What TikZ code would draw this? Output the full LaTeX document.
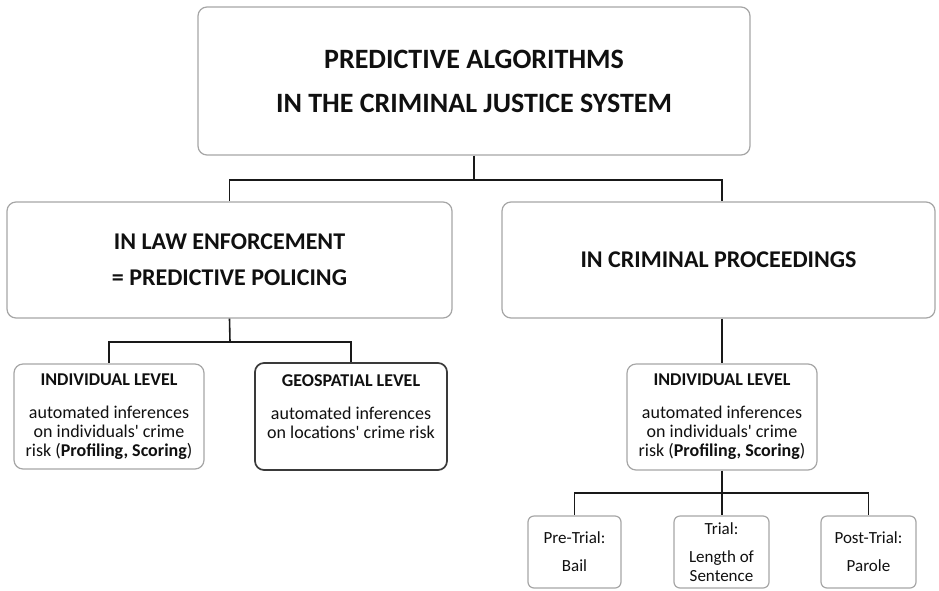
\documentclass[tikz,border=0pt]{standalone}
\usepackage{fontspec}
\setmainfont{Carlito}[Ligatures=TeXOff]
\definecolor{boxgrey}{HTML}{A6A6A6}
\definecolor{boxdark}{HTML}{3A3A3A}
\definecolor{txt}{HTML}{101010}
\begin{document}
\begin{tikzpicture}[x=1pt,y=-1pt,
  box/.style={draw=boxgrey,line width=1.2pt,rounded corners=9pt,fill=white,
    align=center,inner sep=0pt,text=txt},
  smallbox/.style={box,rounded corners=6pt},
  darkbox/.style={box,draw=boxdark,line width=1.7pt},
  conn/.style={draw=black!90,line width=1.6pt},
  big/.style={font=\fontsize{28}{44}\selectfont\bfseries},
  mid/.style={font=\fontsize{24}{36}\selectfont\bfseries},
  lvl/.style={font=\fontsize{18}{19}\selectfont},
  small/.style={font=\fontsize{17}{19}\selectfont}]
\useasboundingbox[fill=white] (0,0) rectangle (939,590);

\node[box,big,minimum width=552pt,minimum height=148pt] (top) at (474,81)
  {PREDICTIVE ALGORITHMS\\IN THE CRIMINAL JUSTICE SYSTEM};

\node[box,mid,minimum width=445pt,minimum height=116pt] (law) at (229.5,260)
  {IN LAW ENFORCEMENT\\= PREDICTIVE POLICING};
\node[box,mid,minimum width=433pt,minimum height=116pt] (proc) at (718.5,260)
  {IN CRIMINAL PROCEEDINGS};

\node[box,lvl,minimum width=190pt,minimum height=105pt] (ind1) at (109,416.5)
  {\textbf{INDIVIDUAL LEVEL}\\[14pt]automated inferences\\on individuals' crime\\risk (\textbf{Profiling, Scoring})};
\node[darkbox,lvl,minimum width=192pt,minimum height=107pt] (geo) at (351,416.5)
  {\textbf{GEOSPATIAL LEVEL}\\[14pt]automated inferences\\on locations' crime risk\\\mbox{}};
\node[box,lvl,minimum width=190pt,minimum height=106pt] (ind2) at (722,417)
  {\textbf{INDIVIDUAL LEVEL}\\[14pt]automated inferences\\on individuals' crime\\risk (\textbf{Profiling, Scoring})};

\node[smallbox,small,minimum width=93pt,minimum height=72pt] (pre) at (574.5,552)
  {Pre-Trial:\\[9pt]Bail};
\node[smallbox,small,minimum width=95pt,minimum height=72pt] (trial) at (721.5,552)
  {Trial:\\[9pt]Length of\\Sentence};
\node[smallbox,small,minimum width=95pt,minimum height=72pt] (post) at (868.5,552)
  {Post-Trial:\\[9pt]Parole};

\coordinate (j1) at (474,180);
\coordinate (j2) at (230,342);
\coordinate (j3) at (722,493);

\draw[conn] (top.south) -- (j1);
\draw[conn] (j1) -| (law.north);
\draw[conn] (j1) -| (ind2.north |- proc.north);
\draw[conn] (law.south) -- (j2);
\draw[conn] (j2) -| (ind1.north);
\draw[conn] (j2) -| (geo.north);
\draw[conn] (ind2.north |- proc.south) -- (ind2.north);
\draw[conn] (ind2.south) -- (j3);
\draw[conn] (j3) -| (pre.north);
\draw[conn] (j3) -| (post.north);
\draw[conn] (j3) -- (j3 |- trial.north);
\end{tikzpicture}
\end{document}
